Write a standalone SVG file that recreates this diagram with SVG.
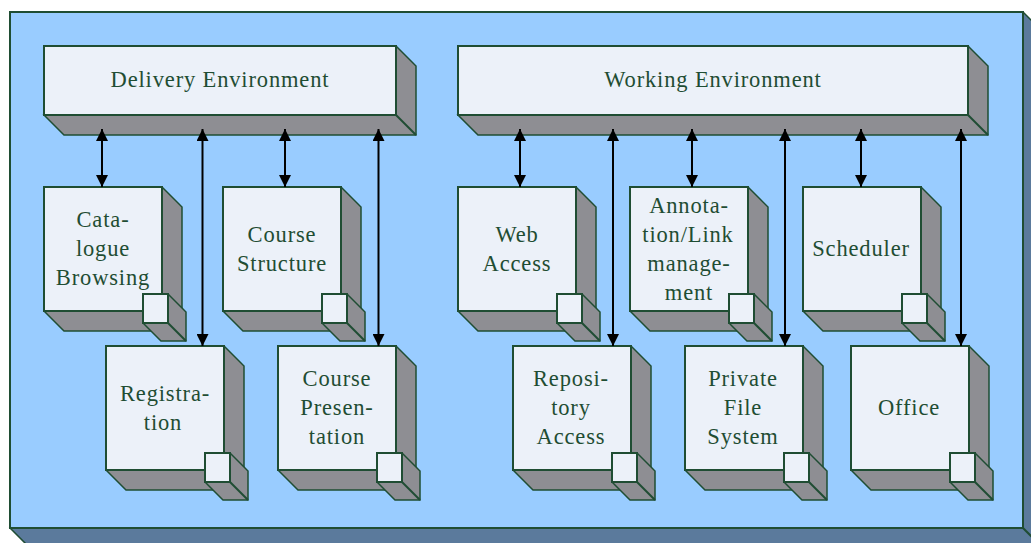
<svg xmlns="http://www.w3.org/2000/svg" xmlns:xlink="http://www.w3.org/1999/xlink" width="1031" height="543" viewBox="0 0 1031 543">
<style>
.o{stroke:#1f4d33;stroke-width:2;stroke-linejoin:miter}
.t{stroke:#1f4d33;stroke-width:1.5;stroke-linejoin:miter}
.f{fill:#ecf1f9}.s{fill:#8e8e93}.b{fill:#99ccff}.d{fill:#5b7a9c}
text{font-family:"Liberation Serif","Times New Roman",serif;font-size:22.5px;fill:#1f4d33;text-anchor:middle;letter-spacing:.85px}
.c{stroke:#000;stroke-width:2;fill:none;marker-start:url(#h);marker-end:url(#h)}
</style>
<defs>
<marker id="h" viewBox="0 0 12 12" refX="12" refY="6" markerWidth="12" markerHeight="12" markerUnits="userSpaceOnUse" orient="auto-start-reverse"><path d="M0 0L12 6L0 12z" fill="#000"/></marker>
<g id="box">
<path class="t s" d="M118 0l20 20V144H20L0 124z"/>
<path class="o" fill="none" d="M118 124l20 20"/>
<rect class="o f" width="118" height="124"/>
<g transform="translate(99,107)">
<path class="t s" d="M25 0l18 18V47H18L0 29z"/>
<path class="o" fill="none" d="M25 29l18 18"/>
<rect class="o f" width="25" height="29"/>
</g>
</g>
</defs>
<g id="frame">
<path class="t d" d="M1023 12l20 20V548H30L10 528z"/>
<path class="o" fill="none" d="M1023 528l20 20"/>
<rect class="o b" x="10" y="12" width="1013" height="516"/>
</g>
<g id="delivery-environment">
<path class="t s" d="M396 46l20 20V135H64L44 115z"/>
<path class="o" fill="none" d="M396 115l20 20"/>
<rect class="o f" x="44" y="46" width="352" height="69"/>
<text x="220" y="87">Delivery Environment</text>
</g>
<g id="working-environment">
<path class="t s" d="M968 46l20 20V135H478L458 115z"/>
<path class="o" fill="none" d="M968 115l20 20"/>
<rect class="o f" x="458" y="46" width="510" height="69"/>
<text x="713" y="87">Working Environment</text>
</g>
<g id="catalogue-browsing"><use xlink:href="#box" href="#box" x="44" y="187"/><text x="103" y="227">Cata-</text><text x="103" y="256">logue</text><text x="103" y="285">Browsing</text></g>
<g id="course-structure"><use xlink:href="#box" href="#box" x="223" y="187"/><text x="282" y="242">Course</text><text x="282" y="271">Structure</text></g>
<g id="registration"><use xlink:href="#box" href="#box" x="106" y="346"/><text x="165" y="401">Registra-</text><text x="163" y="430">tion</text></g>
<g id="course-presentation"><use xlink:href="#box" href="#box" x="278" y="346"/><text x="337" y="386">Course</text><text x="337" y="415">Presen-</text><text x="337" y="444">tation</text></g>
<g id="web-access"><use xlink:href="#box" href="#box" x="458" y="187"/><text x="517" y="242">Web</text><text x="517" y="271">Access</text></g>
<g id="annotation-link"><use xlink:href="#box" href="#box" x="630" y="187"/><text x="689" y="213">Annota-</text><text x="688" y="242">tion/Link</text><text x="689" y="271">manage-</text><text x="689" y="300">ment</text></g>
<g id="scheduler"><use xlink:href="#box" href="#box" x="803" y="187"/><text x="861" y="256">Scheduler</text></g>
<g id="repository-access"><use xlink:href="#box" href="#box" x="513" y="346"/><text x="571" y="386">Reposi-</text><text x="571" y="415">tory</text><text x="571" y="444">Access</text></g>
<g id="private-file-system"><use xlink:href="#box" href="#box" x="685" y="346"/><text x="743" y="386">Private</text><text x="743" y="415">File</text><text x="743" y="444">System</text></g>
<g id="office"><use xlink:href="#box" href="#box" x="851" y="346"/><text x="909" y="415">Office</text></g>
<g id="connectors">
<path class="c" d="M102 129V187"/><path class="c" d="M202.500 129V346"/><path class="c" d="M285 129V187"/><path class="c" d="M378.500 129V346"/>
<path class="c" d="M520 129V187"/><path class="c" d="M613 129V346"/><path class="c" d="M692 129V187"/><path class="c" d="M785 129V346"/><path class="c" d="M861 129V187"/><path class="c" d="M961 129V346"/>
</g>
</svg>
